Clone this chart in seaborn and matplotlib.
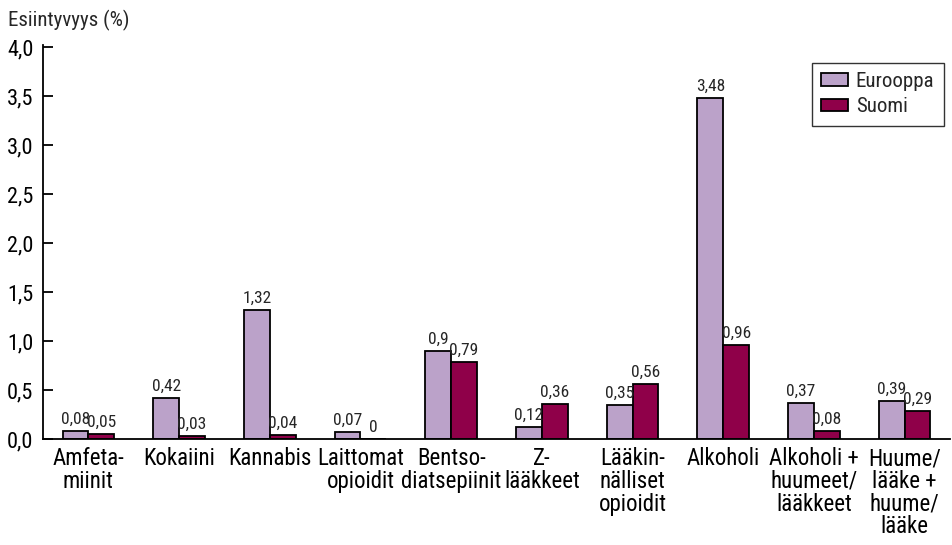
import numpy as np
import pandas as pd
import seaborn as sns
import matplotlib
matplotlib.use("Agg")
import matplotlib.pyplot as plt
from matplotlib.ticker import FuncFormatter, MultipleLocator

# data
categories = ["Amfeta-\nmiinit", "Kokaiini", "Kannabis", "Laittomat\nopioidit",
              "Bentso-\ndiatsepiinit", "Z-\nlääkkeet", "Lääkin-\nnälliset\nopioidit",
              "Alkoholi", "Alkoholi +\nhuumeet/\nlääkkeet", "Huume/\nlääke +\nhuume/\nlääke"]
eurooppa = [0.08, 0.42, 1.32, 0.07, 0.9, 0.12, 0.35, 3.48, 0.37, 0.39]
suomi = [0.05, 0.03, 0.04, 0, 0.79, 0.36, 0.56, 0.96, 0.08, 0.29]
groups = ["Eurooppa", "Suomi"]
colors = ["#bba2c9", "#8f0049"]

df = pd.DataFrame({
    "kategoria": categories * 2,
    "ryhma": [groups[0]] * len(categories) + [groups[1]] * len(categories),
    "arvo": eurooppa + suomi,
})

sns.set_style("white")
plt.rcParams["font.family"] = ["Liberation Sans Narrow", "Roboto Condensed", "Lato", "DejaVu Sans"]

fig = plt.figure(figsize=(9.52, 5.45), dpi=100)
ax = fig.add_axes([43 / 952, 1 - 439 / 545, 907 / 952, 394 / 545])

sns.barplot(data=df, x="kategoria", y="arvo", hue="ryhma", order=categories,
            hue_order=groups, palette=colors, width=0.57, gap=0,
            edgecolor="black", linewidth=1.3, saturation=1, ax=ax)

# value labels above bars
for cont, vals in zip(ax.containers, [eurooppa, suomi]):
    labs = [f"{v:g}".replace(".", ",") for v in vals]
    ax.bar_label(cont, labels=labs, padding=3, fontsize=12.5)

ax.set_xlim(-0.5, len(categories) - 0.5)
ax.set_ylim(0, 4.02)
ax.yaxis.set_major_locator(MultipleLocator(0.5))
ax.yaxis.set_major_formatter(FuncFormatter(lambda v, p: f"{v:.1f}".replace(".", ",")))
ax.set_xlabel("")
ax.set_ylabel("")

for s in ["top", "right"]:
    ax.spines[s].set_visible(False)
for s in ["left", "bottom"]:
    ax.spines[s].set_color("black")
    ax.spines[s].set_linewidth(1.3)

ax.tick_params(axis="y", direction="in", length=7, width=1.3, pad=7,
               labelsize=16, colors="black", left=True)
ax.tick_params(axis="x", length=0, pad=6, labelsize=16.5, labelcolor="black")
for t in ax.get_xticklabels():
    t.set_linespacing(0.98)

leg = ax.legend(loc="upper right", bbox_to_anchor=(0.993, 0.955), borderaxespad=0,
                fontsize=15, frameon=True, fancybox=False, handlelength=1.3,
                handleheight=0.58, handletextpad=0.35, labelspacing=0.3,
                borderpad=0.45, title=None)
leg.get_frame().set_edgecolor("black")
leg.get_frame().set_linewidth(1.0)

fig.text(8 / 952, 1 - 26 / 545, "Esiintyvyys (%)", fontsize=15, va="baseline", ha="left")

fig.savefig("out.png", dpi=100)
